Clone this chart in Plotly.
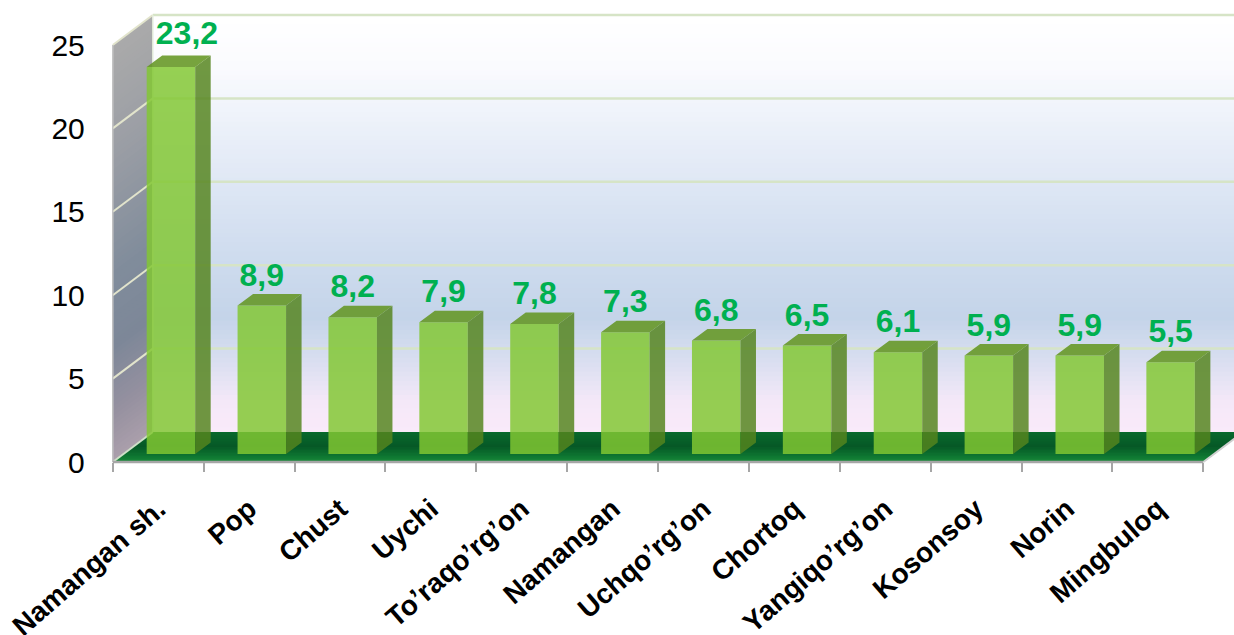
import plotly.graph_objects as go

categories = ["Namangan sh.", "Pop", "Chust", "Uychi", "To’raqo’rg’on", "Namangan",
              "Uchqo’rg’on", "Chortoq", "Yangiqo’rg’on", "Kosonsoy", "Norin", "Mingbuloq"]
values = [23.2, 8.9, 8.2, 7.9, 7.8, 7.3, 6.8, 6.5, 6.1, 5.9, 5.9, 5.5]
y_ticks = [0, 5, 10, 15, 20, 25]

W, H = 1234, 635
# pixel calibration of the pseudo-3D frame
X0, CAT_W = 112.8, 90.88
Y0, UNIT = 462.0, 16.68
DEPTH_X, DEPTH_Y = 40 / CAT_W, 30 / UNIT      # full wall depth in axis units
BAR_W = 48.5 / CAT_W
BAR_DX, BAR_BASE = 12.7 / CAT_W, 8 / UNIT     # bar front plane offset
SIDE_X, SIDE_Y = 15.5 / CAT_W, 11.5 / UNIT    # bar depth
LEFT, RIGHT = -0.5, 11.5

x_range = [LEFT - X0 / CAT_W, LEFT + (W - X0) / CAT_W]
y_range = [(Y0 - H) / UNIT, Y0 / UNIT]


def lerp_stops(stops, t):
    for (t0, c0), (t1, c1) in zip(stops, stops[1:]):
        if t <= t1:
            f = (t - t0) / (t1 - t0) if t1 > t0 else 0
            return "rgb(%d,%d,%d)" % tuple(round(a + (b - a) * f) for a, b in zip(c0, c1))
    return "rgb(%d,%d,%d)" % stops[-1][1]


back_stops = [(0, (255, 255, 255)), (0.12, (250, 251, 254)), (0.3, (232, 238, 248)),
              (0.55, (208, 221, 239)), (0.72, (196, 212, 233)), (0.82, (216, 222, 240)),
              (0.92, (244, 232, 248)), (1, (250, 234, 250))]
side_stops = [(0, (170, 170, 170)), (0.25, (155, 158, 165)), (0.55, (128, 140, 155)),
              (0.72, (125, 135, 152)), (0.88, (150, 145, 160)), (1, (172, 160, 172))]
floor_stops = [(0, (8, 105, 45)), (0.45, (6, 88, 38)), (0.8, (14, 120, 50)), (1, (30, 140, 60))]


def poly(pts):
    return "M" + " L".join(f"{x:.4f},{y:.4f}" for x, y in pts) + " Z"


shapes = []
N = 90
x_back = LEFT + DEPTH_X
x_end = x_range[1] + 1
for i in range(N):
    t = i / N
    y = 25 * (1 - t)
    shapes.append(dict(type="path", layer="below", line_width=0, fillcolor=lerp_stops(back_stops, t),
                       path=poly([(x_back, y + DEPTH_Y), (x_end, y + DEPTH_Y), (x_end, DEPTH_Y), (x_back, DEPTH_Y)])))
for i in range(N):
    t = i / N
    y = 25 * (1 - t)
    shapes.append(dict(type="path", layer="below", line_width=0, fillcolor=lerp_stops(side_stops, t),
                       path=poly([(LEFT, y), (x_back, y + DEPTH_Y), (x_back, DEPTH_Y), (LEFT, 0)])))
M = 20
for i in range(M):
    t = i / M
    f = 1 - t
    shapes.append(dict(type="path", layer="below", line_width=0, fillcolor=lerp_stops(floor_stops, t),
                       path=poly([(LEFT + DEPTH_X * f, DEPTH_Y * f), (RIGHT + DEPTH_X * f, DEPTH_Y * f),
                                  (RIGHT, 0), (LEFT, 0)])))
for v in y_ticks[1:]:
    shapes.append(dict(type="line", layer="below", x0=x_back, x1=x_end, y0=v + DEPTH_Y, y1=v + DEPTH_Y,
                       line=dict(color="#d6e4c6", width=2.5)))
    shapes.append(dict(type="line", layer="below", x0=LEFT, x1=x_back, y0=v, y1=v + DEPTH_Y,
                       line=dict(color="#e2e4cc", width=2)))
shapes.append(dict(type="line", layer="below", x0=LEFT, x1=x_back, y0=0, y1=DEPTH_Y,
                   line=dict(color="#cfe0c8", width=2)))
shapes.append(dict(type="line", layer="below", x0=x_back, x1=x_back, y0=DEPTH_Y, y1=25 + DEPTH_Y,
                   line=dict(color="#e4ecdc", width=1.5)))
shapes.append(dict(type="line", layer="below", x0=LEFT, x1=LEFT, y0=0, y1=25,
                   line=dict(color="#c4c4c4", width=1.5)))
shapes.append(dict(type="line", layer="below", x0=LEFT, x1=RIGHT, y0=0, y1=0,
                   line=dict(color="#a6a6a6", width=2.5)))
shapes.append(dict(type="line", layer="below", x0=RIGHT, x1=RIGHT + DEPTH_X, y0=0, y1=DEPTH_Y,
                   line=dict(color="#d0d0d0", width=2)))

xs = [i + BAR_DX for i in range(len(values))]

fig = go.Figure()
fig.add_bar(x=xs, y=values, base=BAR_BASE, width=BAR_W,
            marker=dict(color="rgba(130,199,50,0.84)", line_width=0), hoverinfo="skip")

side_x, side_y, top_x, top_y = [], [], [], []
for x, v in zip(xs, values):
    xr = x + BAR_W / 2
    xl = x - BAR_W / 2
    yt = BAR_BASE + v
    side_x += [xr, xr + SIDE_X, xr + SIDE_X, xr, xr, None]
    side_y += [BAR_BASE, BAR_BASE + SIDE_Y, yt + SIDE_Y, yt, BAR_BASE, None]
    top_x += [xl, xl + SIDE_X, xr + SIDE_X, xr, xl, None]
    top_y += [yt, yt + SIDE_Y, yt + SIDE_Y, yt, yt, None]
fig.add_scatter(x=side_x, y=side_y, mode="lines", fill="toself", line_width=0,
                fillcolor="rgba(85,132,30,0.84)", hoverinfo="skip", cliponaxis=False)
fig.add_scatter(x=top_x, y=top_y, mode="lines", fill="toself", line_width=0,
                fillcolor="rgba(100,150,35,0.88)", hoverinfo="skip", cliponaxis=False)

# the first label sits a little to the right of its bar in the reference
label_x = [x + (16 / CAT_W if i == 0 else 0) for i, x in enumerate(xs)]
label_y = [BAR_BASE + v + ((31 if i == 0 else 28) - 8) / UNIT + 8 / UNIT for i, v in enumerate(values)]
fig.add_scatter(x=label_x, y=label_y, mode="text",
                text=[f"{v:.1f}".replace(".", ",") for v in values], textposition="middle center",
                textfont=dict(family="Liberation Sans", size=32, color="#00b050", weight="bold"),
                hoverinfo="skip", cliponaxis=False)

fig.update_layout(
    width=W, height=H, margin=dict(l=0, r=0, t=0, b=0, autoexpand=False),
    paper_bgcolor="white", plot_bgcolor="white", showlegend=False, shapes=shapes,
    xaxis=dict(range=x_range, anchor="free", position=1 - Y0 / H, domain=[0, 1], showgrid=False,
               zeroline=False, showline=False, tickmode="array", tickvals=list(range(len(categories))),
               ticktext=categories, tickangle=-41, ticks="", ticklabelstandoff=24, ticklabeloverflow="allow",
               tickfont=dict(family="Liberation Sans", size=28, color="black", weight="bold"),
               minor=dict(tickmode="array", tickvals=[i - 0.5 for i in range(len(categories) + 1)],
                          ticks="outside", ticklen=9, tickwidth=2, tickcolor="#a6a6a6", showgrid=False)),
    yaxis=dict(range=y_range, anchor="free", position=X0 / W, domain=[0, 1], showgrid=False,
               zeroline=False, showline=False, tickmode="array", tickvals=y_ticks, ticks="",
               ticklabelstandoff=28, ticklabeloverflow="allow",
               tickfont=dict(family="Liberation Sans", size=30, color="black")),
)
fig.write_html("out.html", config=dict(displayModeBar=False),
               post_script="document.body.style.margin='0';document.documentElement.style.overflow='hidden';")
